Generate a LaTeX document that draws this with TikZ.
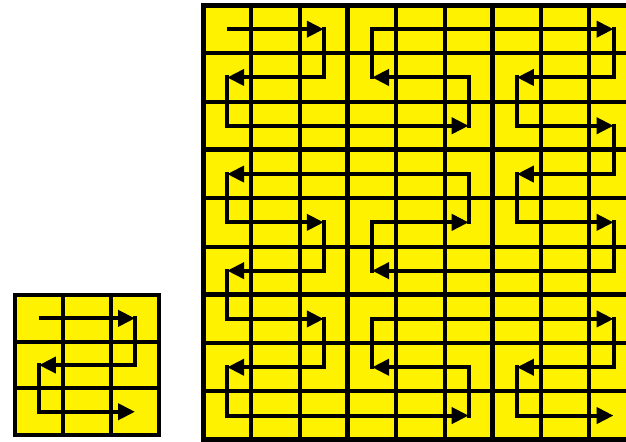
\documentclass[tikz,border=0pt]{standalone}
\usepackage{tikz}
\usetikzlibrary{arrows.meta}

\begin{document}
\begin{tikzpicture}[
    x=0.02cm, y=-0.02cm,
    cell/.style={draw=black, fill=yellow, line width=0.08cm},
    blockline/.style={draw=black, line width=0.1cm},
    run/.style={line width=0.08cm, -{Triangle[length=0.34cm, width=0.32cm]}},
    link/.style={line width=0.08cm, line cap=rect}
]
\useasboundingbox (0,0) rectangle (626,441);
\clip (0,0) rectangle (626,441);

% Small grid (3x3)
\foreach \r in {1,2,3} {
  \foreach \c in {1,2,3} {
    \draw[cell] ({15+48*(\c-1)},{295+46.7*(\r-1)}) rectangle ({15+48*\c},{295+46.7*\r});
    \coordinate (q-\r-\c) at ({15+48*(\c-0.5)},{295+46.7*(\r-0.5)});
  }
}

% Big grid (9x9)
\foreach \r in {1,...,9} {
  \foreach \c in {1,...,9} {
    \draw[cell] ({203+48.3*(\c-1)},{5+48.3*(\r-1)}) rectangle ({203+48.3*\c},{5+48.3*\r});
    \coordinate (p-\r-\c) at ({203+48.3*(\c-0.5)},{5+48.3*(\r-0.5)});
  }
}
% block borders
\foreach \k in {0,3,6,9} {
  \draw[blockline] ({203+48.3*\k},5) -- ({203+48.3*\k},{5+48.3*9});
  \draw[blockline] (203,{5+48.3*\k}) -- ({203+48.3*9},{5+48.3*\k});
}

% Small curve
\foreach \a/\b in {1-1/1-3, 2-3/2-1, 3-1/3-3}
  \draw[run] (q-\a) -- (q-\b);
\foreach \a/\b in {1-3/2-3, 2-1/3-1}
  \draw[link] (q-\a) -- (q-\b);

% Big curve
\foreach \a/\b in {1-1/1-3, 2-3/2-1, 3-1/3-6, 2-6/2-4, 1-4/1-9, 2-9/2-7, 3-7/3-9,
                   4-9/4-7, 5-7/5-9, 6-9/6-4, 5-4/5-6, 4-6/4-1, 5-1/5-3, 6-3/6-1,
                   7-1/7-3, 8-3/8-1, 9-1/9-6, 8-6/8-4, 7-4/7-9, 8-9/8-7, 9-7/9-9}
  \draw[run] (p-\a) -- (p-\b);
\foreach \a/\b in {1-3/2-3, 2-1/3-1, 3-6/2-6, 2-4/1-4, 1-9/2-9, 2-7/3-7, 3-9/4-9,
                   4-7/5-7, 5-9/6-9, 6-4/5-4, 5-6/4-6, 4-1/5-1, 5-3/6-3, 6-1/7-1,
                   7-3/8-3, 8-1/9-1, 9-6/8-6, 8-4/7-4, 7-9/8-9, 8-7/9-7}
  \draw[link] (p-\a) -- (p-\b);

\end{tikzpicture}
\end{document}
